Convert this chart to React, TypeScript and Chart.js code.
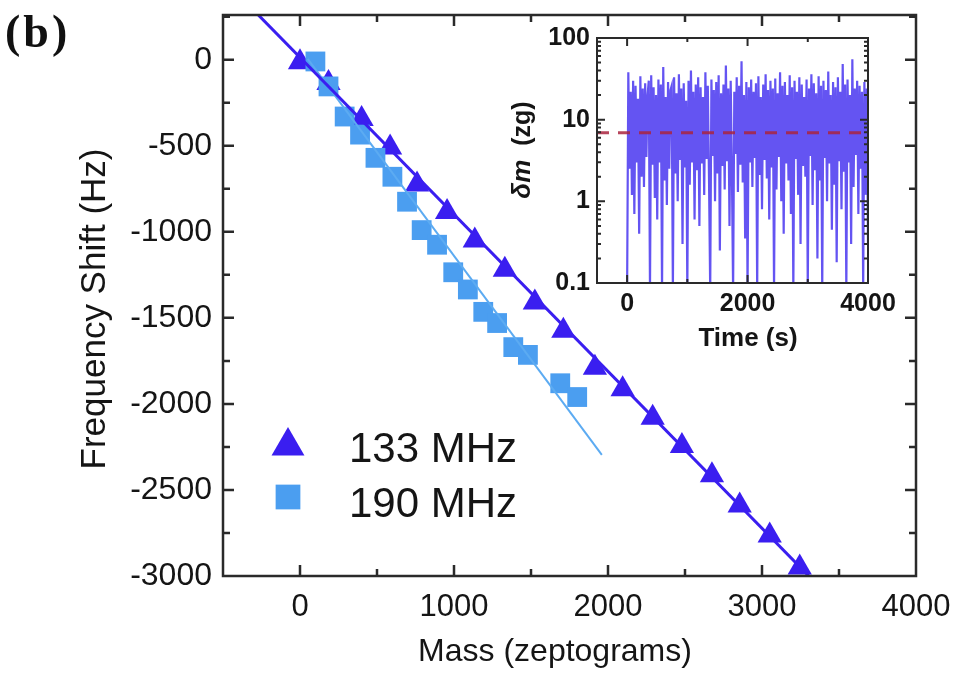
import React, { useEffect, useRef } from 'react';
import { Chart, registerables } from 'chart.js';
import { drawPoint } from 'chart.js/helpers';

Chart.register(...registerables);

// ---------------- Main panel data ----------------
const MASS_133 = [0, 185, 400, 585, 760, 955, 1135, 1330, 1525, 1710, 1915, 2095, 2290, 2480, 2675, 2855, 3050, 3245];
const SHIFT_133 = [-15, -135, -345, -510, -725, -885, -1050, -1220, -1410, -1575, -1790, -1915, -2080, -2245, -2415, -2590, -2765, -2950];

const MASS_190 = [100, 185, 290, 390, 490, 600, 695, 790, 890, 995, 1090, 1190, 1280, 1385, 1480, 1690, 1800];
const SHIFT_190 = [-10, -155, -330, -435, -570, -680, -825, -990, -1075, -1235, -1335, -1465, -1530, -1670, -1715, -1880, -1960];

const FIT_133_MASS = [-300, 3350];
const FIT_133_SHIFT = [287, -3042];
const FIT_190_MASS = [50, 1960];
const FIT_190_SHIFT = [5, -2296];

const X_TICKS = [0, 1000, 2000, 3000, 4000];
const Y_TICKS = [0, -500, -1000, -1500, -2000, -2500, -3000];

// ---------------- Inset data ----------------
const SAMPLE_INTERVAL_S = 20;
const DM_ZG = [
  0.08, 38, 2.5, 22, 1.2, 30, 0.7, 26, 3, 18, 0.4, 34, 2, 24, 1.5, 28, 3.5, 20, 30, 0.08,
  35, 2.8, 25, 1.1, 20, 0.6, 31, 3, 27, 0.08, 44, 1.8, 19, 0.9, 29, 2.5, 23, 26, 0.08, 33,
  2.2, 21, 1, 36, 3.2, 24, 0.3, 28, 2.6, 17, 0.08, 30, 1.6, 40, 3, 22, 0.6, 27, 2.4, 33,
  0.5, 25, 2.9, 19, 1.2, 38, 3.3, 26, 1.9, 0.08, 31, 3.6, 23, 1, 29, 2.2, 35, 0.25, 21, 2.7,
  27, 1.4, 46, 3.1, 24, 0.5, 30, 2.3, 0.08, 22, 3.8, 33, 1.3, 26, 2.8, 52, 1.7, 20, 0.35, 29,
  0.08, 25, 3, 31, 1.5, 22, 3.4, 28, 0.08, 34, 2.1, 19, 0.8, 27, 3.2, 36, 1.9, 23, 0.6, 30,
  2.6, 24, 0.08, 32, 1.4, 21, 3.5, 38, 1, 26, 0.4, 29, 2.9, 20, 1.8, 35, 0.7, 25, 0.08, 30,
  3.3, 22, 1.2, 33, 0.3, 27, 2.7, 19, 2, 31, 0.08, 24, 3.6, 36, 0.9, 28, 2.4, 21, 0.2, 34,
  1.8, 26, 0.08, 30, 3.4, 23, 1, 39, 2.9, 20, 0.45, 29, 1.6, 25, 0.18, 33, 3.1, 22, 0.8, 48,
  2.3, 27, 0.08, 31, 3, 20, 0.3, 55, 1.5, 24, 3.7, 30, 0.7, 26, 2.5, 22, 0.08, 29, 1.2, 24,
  0.3,
];
const DM_THRESHOLD = 6.9;
const INSET_X_RANGE = [-500, 4000];
const INSET_X_TICKS = [0, 2000, 4000];
const INSET_Y_TICKS = [0.1, 1, 10, 100];

// ---------------- Styles ----------------
const FONT = "'Liberation Sans', Arial, Helvetica, sans-serif";
const DARK = '#3a1ef0';
const LIGHT = '#4b9ef0';
const LIGHT_LINE = '#5cabf2';
const TEXT = '#151515';
const FRAME = '#2a2a2a';

const zip = (xs: number[], ys: number[]) => xs.map((x, i) => ({ x, y: ys[i] }));

const noPad = (s: any) => {
  s.paddingTop = 0;
  s.paddingBottom = 0;
  s.paddingLeft = 0;
  s.paddingRight = 0;
};

type FrameCfg = {
  lw: number;
  major: number;
  minor: number;
  xMajor: number[];
  xMinor: number[];
  yMajor: number[];
  yMinor: number[];
};

const framePlugin = (cfg: FrameCfg) => ({
  id: 'frameTicks',
  afterDatasetsDraw(chart: any) {
    const { ctx, chartArea: a, scales } = chart;
    const xs = scales.x;
    const ys = scales.y;
    ctx.save();
    ctx.strokeStyle = FRAME;
    ctx.lineWidth = cfg.lw;
    ctx.beginPath();
    const xt = (vals: number[], len: number) => {
      vals.forEach((v) => {
        const p = xs.getPixelForValue(v);
        ctx.moveTo(p, a.bottom);
        ctx.lineTo(p, a.bottom - len);
        ctx.moveTo(p, a.top);
        ctx.lineTo(p, a.top + len);
      });
    };
    const yt = (vals: number[], len: number) => {
      vals.forEach((v) => {
        const p = ys.getPixelForValue(v);
        ctx.moveTo(a.left, p);
        ctx.lineTo(a.left + len, p);
        ctx.moveTo(a.right, p);
        ctx.lineTo(a.right - len, p);
      });
    };
    xt(cfg.xMajor, cfg.major);
    xt(cfg.xMinor, cfg.minor);
    yt(cfg.yMajor, cfg.major);
    yt(cfg.yMinor, cfg.minor);
    ctx.stroke();
    ctx.strokeRect(a.left, a.top, a.right - a.left, a.bottom - a.top);
    ctx.restore();
  },
});

const mainDecor = {
  id: 'mainDecor',
  afterDraw(chart: any) {
    const { ctx } = chart;
    ctx.save();
    ctx.fillStyle = '#111';
    ctx.font = "bold 46px 'Liberation Serif', 'Times New Roman', serif";
    ctx.textBaseline = 'alphabetic';
    ctx.textAlign = 'left';
    try { (ctx as any).letterSpacing = '3px'; } catch (e) {}
    ctx.fillText('(b)', 5, 47);
    try { (ctx as any).letterSpacing = '0px'; } catch (e) {}
    // axis titles
    ctx.fillStyle = TEXT;
    ctx.textAlign = 'center';
    ctx.textBaseline = 'middle';
    ctx.font = `32px ${FONT}`;
    ctx.fillText('Mass (zeptograms)', 555, 652);
    ctx.save();
    ctx.translate(95, 309);
    ctx.rotate(-Math.PI / 2);
    ctx.font = `35px ${FONT}`;
    ctx.fillText('Frequency Shift (Hz)', 0, 0);
    ctx.restore();
    // legend
    ctx.fillStyle = DARK;
    drawPoint(ctx, { pointStyle: 'triangle', radius: 19, rotation: 0, borderWidth: 0 } as any, 288, 446);
    ctx.fillStyle = LIGHT;
    drawPoint(ctx, { pointStyle: 'rect', radius: 17.5, rotation: 0, borderWidth: 0 } as any, 288, 497);
    ctx.fillStyle = TEXT;
    ctx.textAlign = 'left';
    ctx.textBaseline = 'alphabetic';
    ctx.font = `42px ${FONT}`;
    ctx.fillText('133 MHz', 349, 462);
    ctx.fillText('190 MHz', 349, 517);
    ctx.restore();
  },
};

const insetDecor = {
  id: 'insetDecor',
  afterDraw(chart: any) {
    const { ctx } = chart;
    ctx.save();
    ctx.fillStyle = TEXT;
    ctx.textAlign = 'center';
    ctx.textBaseline = 'middle';
    ctx.font = `bold 26px ${FONT}`;
    ctx.fillText('Time (s)', 268, 319);
    ctx.translate(43, 130);
    ctx.rotate(-Math.PI / 2);
    const f1 = `italic bold 26px ${FONT}`;
    const f2 = `bold 25px ${FONT}`;
    const s1 = 'δm';
    const s2 = '  (zg)';
    ctx.font = f1;
    const w1 = ctx.measureText(s1).width;
    ctx.font = f2;
    const w2 = ctx.measureText(s2).width;
    const start = -(w1 + w2) / 2;
    ctx.font = f1;
    ctx.textAlign = 'left';
    ctx.fillText(s1, start, 0);
    ctx.font = f2;
    ctx.fillText(s2, start + w1, 0);
    ctx.restore();
  },
};

export default function App() {
  const mainRef = useRef<HTMLCanvasElement | null>(null);
  const insetRef = useRef<HTMLCanvasElement | null>(null);

  useEffect(() => {
    const yMinor: number[] = [];
    for (let v = 250; v >= -3000; v -= 500) yMinor.push(v);
    const main = new Chart(mainRef.current as HTMLCanvasElement, {
      type: 'scatter',
      data: {
        datasets: [
          {
            label: 'fit 133 MHz',
            data: zip(FIT_133_MASS, FIT_133_SHIFT),
            showLine: true,
            borderColor: DARK,
            borderWidth: 3,
            pointRadius: 0,
            order: 0,
          },
          {
            label: 'fit 190 MHz',
            data: zip(FIT_190_MASS, FIT_190_SHIFT),
            showLine: true,
            borderColor: LIGHT_LINE,
            borderWidth: 2,
            pointRadius: 0,
            order: 1,
          },
          {
            label: '190 MHz',
            data: zip(MASS_190, SHIFT_190),
            pointStyle: 'rect',
            pointRadius: 14,
            backgroundColor: LIGHT,
            borderWidth: 0,
            order: 2,
            clip: false,
          },
          {
            label: '133 MHz',
            data: zip(MASS_133, SHIFT_133),
            pointStyle: 'triangle',
            pointRadius: 14,
            backgroundColor: DARK,
            borderWidth: 0,
            order: 3,
            clip: false,
          },
        ],
      } as any,
      options: {
        responsive: false,
        animation: false,
        events: [],
        layout: { padding: { left: 0, right: 40, top: 15, bottom: 0 } },
        plugins: { legend: { display: false }, tooltip: { enabled: false } },
        scales: {
          x: {
            type: 'linear',
            min: -500,
            max: 4000,
            afterBuildTicks: (s: any) => { s.ticks = X_TICKS.map((v) => ({ value: v })); },
            afterFit: (s: any) => { s.height = 104; noPad(s); },
            grid: { display: false, drawTicks: false },
            border: { display: false },
            ticks: { font: { family: FONT, size: 31 }, color: TEXT, padding: 13, maxRotation: 0, autoSkip: false, callback: (v: any) => String(v) },
            title: { display: false },
          },
          y: {
            type: 'linear',
            min: -3000,
            max: 260,
            afterBuildTicks: (s: any) => { s.ticks = Y_TICKS.map((v) => ({ value: v })); },
            afterFit: (s: any) => { s.width = 223; noPad(s); },
            grid: { display: false, drawTicks: false },
            border: { display: false },
            ticks: { font: { family: FONT, size: 32 }, color: TEXT, padding: 11, autoSkip: false, callback: (v: any) => String(v) },
            title: { display: false },
          },
        },
      } as any,
      plugins: [
        framePlugin({
          lw: 2.5,
          major: 11,
          minor: 7,
          xMajor: [0, 1000, 2000, 3000],
          xMinor: [500, 1500, 2500, 3500],
          yMajor: [0, -500, -1000, -1500, -2000, -2500],
          yMinor,
        }),
        mainDecor,
      ],
    });

    const logMinor: number[] = [];
    [0.1, 1, 10].forEach((d) => { for (let k = 2; k <= 9; k++) logMinor.push(d * k); });
    const inset = new Chart(insetRef.current as HTMLCanvasElement, {
      type: 'scatter',
      data: {
        datasets: [
          {
            label: 'threshold',
            data: zip(INSET_X_RANGE, [DM_THRESHOLD, DM_THRESHOLD]),
            showLine: true,
            borderColor: 'rgba(170,36,64,0.85)',
            borderWidth: 3,
            borderDash: [12, 9],
            pointRadius: 0,
            order: 0,
          },
          {
            label: 'δm',
            data: DM_ZG.map((v, i) => ({ x: i * SAMPLE_INTERVAL_S, y: v })),
            showLine: true,
            borderColor: 'rgba(56,36,238,0.78)',
            borderWidth: 2.2,
            pointRadius: 0,
            order: 1,
          },
        ],
      } as any,
      options: {
        responsive: false,
        animation: false,
        events: [],
        layout: { padding: { left: 0, right: 32, top: 18, bottom: 0 } },
        plugins: { legend: { display: false }, tooltip: { enabled: false } },
        scales: {
          x: {
            type: 'linear',
            min: INSET_X_RANGE[0],
            max: INSET_X_RANGE[1],
            afterBuildTicks: (s: any) => { s.ticks = INSET_X_TICKS.map((v) => ({ value: v })); },
            afterFit: (s: any) => { s.height = 77; noPad(s); },
            grid: { display: false, drawTicks: false },
            border: { display: false },
            ticks: { font: { family: FONT, size: 25, weight: 'bold' }, color: TEXT, padding: 6, maxRotation: 0, autoSkip: false, callback: (v: any) => String(v) },
            title: { display: false },
          },
          y: {
            type: 'logarithmic',
            min: 0.1,
            max: 100,
            afterBuildTicks: (s: any) => { s.ticks = INSET_Y_TICKS.map((v) => ({ value: v })); },
            afterFit: (s: any) => { s.width = 117; noPad(s); },
            grid: { display: false, drawTicks: false },
            border: { display: false },
            ticks: { font: { family: FONT, size: 25, weight: 'bold' }, color: TEXT, padding: 7, autoSkip: false, callback: (v: any) => String(v) },
          },
        },
      } as any,
      plugins: [
        framePlugin({
          lw: 2,
          major: 8,
          minor: 4,
          xMajor: [0, 2000],
          xMinor: [1000, 3000],
          yMajor: [1, 10],
          yMinor: logMinor,
        }),
        insetDecor,
      ],
    });

    return () => {
      main.destroy();
      inset.destroy();
    };
  }, []);

  return (
    <div style={{ position: 'absolute', left: 0, top: 0, width: 956, height: 680, background: '#fff', overflow: 'hidden' }}>
      <canvas ref={mainRef} width={956} height={680} style={{ position: 'absolute', left: 0, top: 0 }} />
      <canvas ref={insetRef} width={420} height={340} style={{ position: 'absolute', left: 480, top: 20 }} />
    </div>
  );
}
